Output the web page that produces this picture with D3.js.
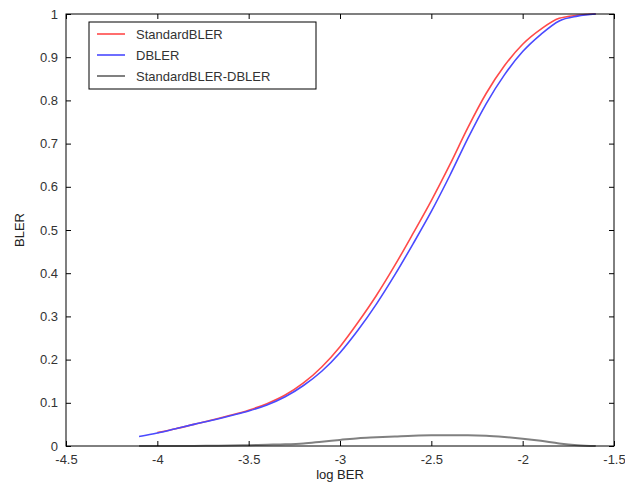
<!DOCTYPE html>
<html><head><meta charset="utf-8">
<script src="https://cdn.jsdelivr.net/npm/d3@7"></script>
<style>body{margin:0;background:#fff}svg{display:block}text{font-family:"Liberation Sans",Arial,sans-serif}</style>
</head><body>
<script>
const xRed = [-4.0,-3.9,-3.8,-3.7,-3.6,-3.5,-3.4,-3.3,-3.2,-3.1,-3.0,-2.9,-2.8,-2.7,-2.6,-2.5,-2.4,-2.3,-2.2,-2.1,-2.0,-1.9,-1.8,-1.7,-1.6];
const standardBLER = [0.031,0.040,0.050,0.060,0.071,0.083,0.098,0.118,0.146,0.183,0.230,0.287,0.349,0.418,0.492,0.568,0.650,0.737,0.816,0.880,0.930,0.965,0.990,0.997,1.0];
const xBlue = [-4.1,-4.0,-3.9,-3.8,-3.7,-3.6,-3.5,-3.4,-3.3,-3.2,-3.1,-3.0,-2.9,-2.8,-2.7,-2.6,-2.5,-2.4,-2.3,-2.2,-2.1,-2.0,-1.9,-1.8,-1.7,-1.6];
const dBLER = [0.022,0.030,0.040,0.050,0.0595,0.070,0.081,0.095,0.114,0.140,0.173,0.216,0.269,0.329,0.396,0.468,0.543,0.625,0.712,0.792,0.859,0.913,0.953,0.984,0.995,1.0];
const diffBLER = [0,0,0,0,0.0005,0.001,0.002,0.003,0.004,0.006,0.010,0.014,0.018,0.020,0.022,0.024,0.025,0.025,0.025,0.024,0.021,0.017,0.012,0.006,0.002,0];
const xTicks = [-4.5,-4,-3.5,-3,-2.5,-2,-1.5];
const yTicks = [0,0.1,0.2,0.3,0.4,0.5,0.6,0.7,0.8,0.9,1];
const legendLabels = ["StandardBLER","DBLER","StandardBLER-DBLER"];

const W=625,H=491, L=66, R=614, T=14, B=446;
const svg=d3.select("body").append("svg").attr("width",W).attr("height",H);
const x=d3.scaleLinear().domain([-4.5,-1.5]).range([L,R]);
const y=d3.scaleLinear().domain([0,1]).range([B,T]);

const line=(xs)=>d3.line().x((d,i)=>x(xs[i])).y(d=>y(d)).curve(d3.curveMonotoneX);

svg.append("path").datum(standardBLER).attr("d",line(xRed)).attr("fill","none").attr("stroke","#ff4a4a").attr("stroke-width",1.6);
svg.append("path").datum(dBLER).attr("d",line(xBlue)).attr("fill","none").attr("stroke","#4a4aff").attr("stroke-width",1.6);
svg.append("path").datum(diffBLER).attr("d",line(xBlue)).attr("fill","none").attr("stroke","#808080").attr("stroke-width",2);

// axes
const ax=d3.axisBottom(x).tickValues(xTicks).tickFormat(d=>d).tickSizeInner(-5).tickSizeOuter(0).tickPadding(9);
svg.append("g").attr("transform",`translate(0,${B})`).call(ax);
const ay=d3.axisLeft(y).tickValues(yTicks).tickFormat(d=>d).tickSizeInner(-5).tickSizeOuter(0).tickPadding(8);
svg.append("g").attr("transform",`translate(${L},0)`).call(ay);
const axt=d3.axisTop(x).tickValues(xTicks).tickFormat("").tickSizeInner(-5).tickSizeOuter(0);
svg.append("g").attr("transform",`translate(0,${T})`).call(axt);
const ayr=d3.axisRight(y).tickValues(yTicks).tickFormat("").tickSizeInner(-5).tickSizeOuter(0);
svg.append("g").attr("transform",`translate(${R},0)`).call(ayr);
svg.selectAll(".domain").remove();
svg.selectAll(".tick line").attr("stroke","#000");
svg.selectAll(".tick text").attr("font-size",13).attr("fill","#333").attr("font-family","Liberation Sans, Arial, sans-serif");
svg.append("rect").attr("x",L).attr("y",T).attr("width",R-L).attr("height",B-T).attr("fill","none").attr("stroke","#000").attr("stroke-width",1);

svg.append("text").attr("x",340).attr("y",479).attr("text-anchor","middle").attr("font-size",13).attr("fill","#222").text("log BER");
svg.append("text").attr("transform","translate(24,230) rotate(-90)").attr("text-anchor","middle").attr("font-size",13).attr("fill","#222").text("BLER");

// legend
const lg=svg.append("g");
lg.append("rect").attr("x",89).attr("y",22).attr("width",227).attr("height",67).attr("fill","#fff").attr("stroke","#000");
const lc=["#ff4a4a","#4a4aff","#808080"], ly=[34,55,76];
legendLabels.forEach((t,i)=>{
  lg.append("line").attr("x1",97).attr("x2",125).attr("y1",ly[i]).attr("y2",ly[i]).attr("stroke",lc[i]).attr("stroke-width",i==2?2:1.6);
  lg.append("text").attr("x",136).attr("y",ly[i]+5).attr("font-size",13).attr("fill","#333").text(t);
});
</script>
</body></html>
